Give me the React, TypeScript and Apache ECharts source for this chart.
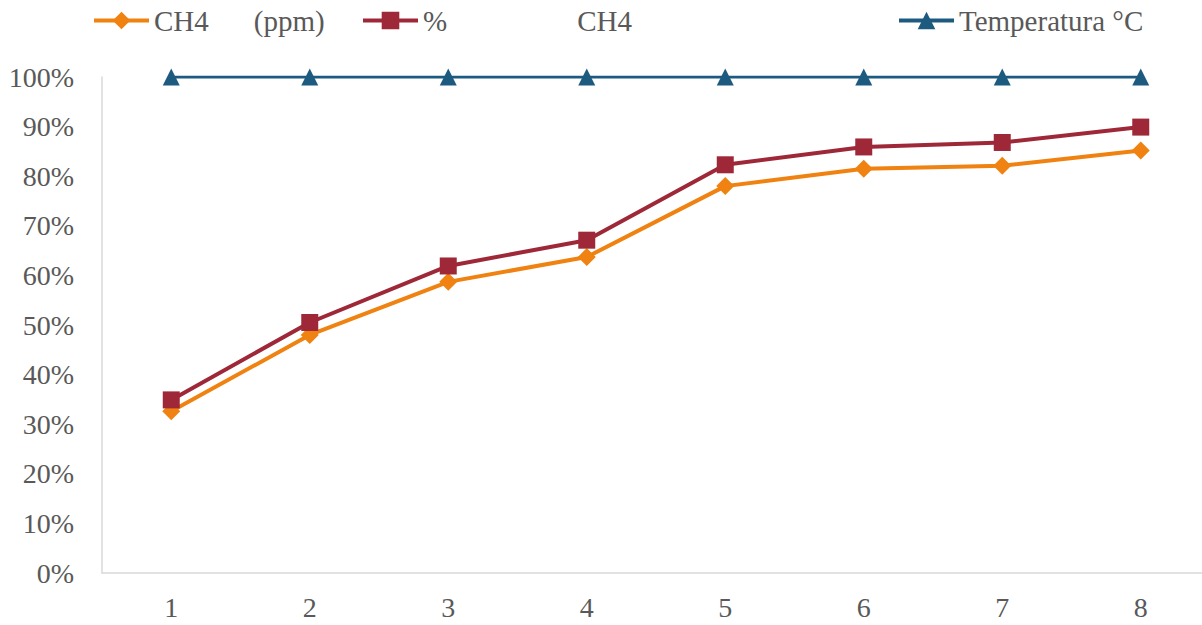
import React, { useEffect, useRef } from "react";
import * as echarts from "echarts";

const categories = ["1", "2", "3", "4", "5", "6", "7", "8"];
const ch4Ppm = [32.6, 48.0, 58.7, 63.7, 78.0, 81.5, 82.1, 85.2];
const ch4Percent = [34.9, 50.5, 61.9, 67.1, 82.3, 85.9, 86.8, 89.9];
const temperatura = [100, 100, 100, 100, 100, 100, 100, 100];
const yTicks = [0, 10, 20, 30, 40, 50, 60, 70, 80, 90, 100];

const FONT = "'Liberation Serif', 'Times New Roman', serif";
const TEXT = "#595959";
const ORANGE = "#EF8210";
const RED = "#9E2838";
const BLUE = "#1C5A80";

export default function App() {
  const ref = useRef<HTMLDivElement>(null);

  useEffect(() => {
    if (!ref.current) return;
    const chart = echarts.init(ref.current, undefined, { renderer: "svg" });

    const legendBase = {
      top: 6,
      padding: 0,
      itemWidth: 55,
      itemHeight: 22,
      itemGap: 5,
      lineStyle: { width: 4 },
      textStyle: {
        fontFamily: FONT,
        fontSize: 29,
        color: TEXT,
        rich: {
          t: { fontFamily: FONT, fontSize: 29, color: TEXT },
          g1: { width: 45 },
          g2: { width: 130 },
        },
      },
    };

    chart.setOption({
      animation: false,
      backgroundColor: "#ffffff",
      legend: [
        {
          ...legendBase,
          left: 92,
          data: ["CH4 (ppm)"],
          formatter: () => "{t|CH4}{g1|}{t|(ppm)}",
        },
        {
          ...legendBase,
          left: 361,
          data: ["% CH4"],
          formatter: () => "{t|%}{g2|}{t|CH4}",
        },
        {
          ...legendBase,
          left: 897,
          data: ["Temperatura °C"],
          formatter: () => "{t|Temperatura °C}",
        },
      ],
      grid: {
        left: 102,
        top: 77,
        right: 0,
        bottom: 52,
        containLabel: false,
      },
      xAxis: {
        type: "category",
        data: categories,
        boundaryGap: true,
        axisLine: { show: true, lineStyle: { color: "#D9D9D9", width: 1.5 } },
        axisTick: { show: false },
        axisLabel: {
          fontFamily: FONT,
          fontSize: 28,
          color: TEXT,
          margin: 20,
        },
        splitLine: { show: false },
      },
      yAxis: {
        type: "value",
        min: yTicks[0],
        max: yTicks[yTicks.length - 1],
        interval: 10,
        axisLine: { show: true, lineStyle: { color: "#D9D9D9", width: 1.5 } },
        axisTick: { show: false },
        splitLine: { show: false },
        axisLabel: {
          fontFamily: FONT,
          fontSize: 28,
          color: TEXT,
          margin: 28,
          formatter: "{value}%",
        },
      },
      series: [
        {
          name: "CH4 (ppm)",
          type: "line",
          data: ch4Ppm,
          symbol: "diamond",
          symbolSize: 18,
          lineStyle: { color: ORANGE, width: 4 },
          itemStyle: { color: ORANGE },
          z: 3,
        },
        {
          name: "% CH4",
          type: "line",
          data: ch4Percent,
          symbol: "rect",
          symbolSize: 17,
          lineStyle: { color: RED, width: 4 },
          itemStyle: { color: RED },
          z: 4,
        },
        {
          name: "Temperatura °C",
          type: "line",
          data: temperatura,
          symbol: "triangle",
          symbolSize: 17,
          lineStyle: { color: BLUE, width: 3 },
          itemStyle: { color: BLUE },
          z: 5,
        },
      ],
    });

    return () => chart.dispose();
  }, []);

  // The plot runs a few pixels past the right edge of the window
  return (
    <div
      ref={ref}
      style={{ position: "fixed", left: 0, top: 0, width: 1210, height: 625 }}
    />
  );
}
